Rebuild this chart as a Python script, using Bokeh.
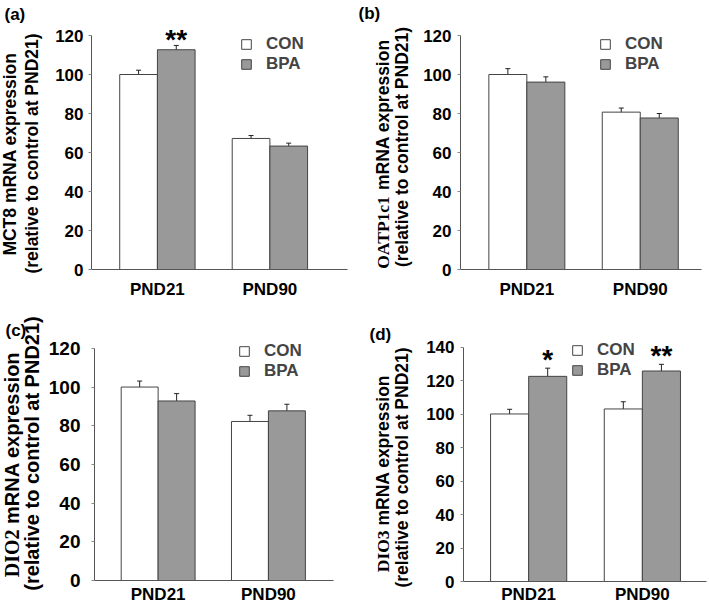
import math
from bokeh.plotting import figure
from bokeh.models import (ColumnDataSource, Range1d, FixedTicker, Label, Legend,
                          LegendItem, Whisker, TeeHead)
from bokeh.layouts import column, row
from bokeh.core.properties import value
from bokeh.embed import file_html
from bokeh.resources import INLINE

# ---------------- data ----------------
categories = ["PND21", "PND90"]
groups = ["CON", "BPA"]

mct8_con = [100.0, 67.2]
mct8_bpa = [112.7, 63.3]
mct8_con_err = [2.2, 1.5]
mct8_bpa_err = [2.2, 1.5]
mct8_sig = ["**", ""]

oatp_con = [100.0, 80.7]
oatp_bpa = [96.1, 77.7]
oatp_con_err = [3.0, 2.1]
oatp_bpa_err = [2.7, 2.3]
oatp_sig = ["", ""]

dio2_con = [100.0, 82.2]
dio2_bpa = [92.8, 87.7]
dio2_con_err = [3.1, 3.2]
dio2_bpa_err = [3.8, 3.4]
dio2_sig = ["", ""]

dio3_con = [100.2, 103.2]
dio3_bpa = [122.7, 125.9]
dio3_con_err = [2.8, 4.3]
dio3_bpa_err = [4.9, 4.0]
dio3_sig = ["*", "**"]

yticks_120 = [0, 20, 40, 60, 80, 100, 120]
yticks_140 = [0, 20, 40, 60, 80, 100, 120, 140]

label_line2 = "(relative to control at PND21)"
label_tail = "mRNA expression"

# ---------------- style ----------------
SANS = "Liberation Sans"
SERIF = "Liberation Serif"
BAR_W = 0.335
CON_FILL = "white"
BPA_FILL = "#999999"
EDGE = "#444444"

SANS_W = {' ': 278, '(': 333, ')': 333, 'A': 722, 'B': 722, 'C': 722, 'D': 722,
          'E': 667, 'I': 278, 'M': 833, 'N': 722, 'O': 778, 'P': 667, 'R': 722,
          'T': 611, 'a': 556, 'c': 556, 'e': 556, 'i': 278, 'l': 278, 'm': 889,
          'n': 611, 'o': 611, 'p': 611, 'r': 389, 's': 556, 't': 333, 'v': 556,
          'x': 556}
for d in "0123456789":
    SANS_W[d] = 556
SERIF_W = {' ': 250, 'A': 722, 'D': 722, 'I': 389, 'O': 778, 'P': 611, 'T': 667,
           'c': 444}
for d in "0123456789":
    SERIF_W[d] = 500


def tw(s, table, fs):
    return sum(table.get(c, 556) for c in s) / 1000.0 * fs


def make_title(tag, gene, gene_serif, cfg):
    """Narrow strip holding the panel tag and the two-line y-axis title."""
    W, H = cfg["tw"], cfg["h"]
    t = figure(width=W, height=H, output_backend="svg", toolbar_location=None,
               x_range=Range1d(0, W), y_range=Range1d(0, H),
               x_axis_location=None, y_axis_location=None,
               min_border_left=0, min_border_right=0, min_border_top=0,
               min_border_bottom=0)
    t.outline_line_color = None
    t.grid.visible = False

    t.add_layout(Label(x=cfg["tag"][0], y=cfg["tag"][1], text=tag,
                       text_align="left", text_baseline="middle", text_font=SANS,
                       text_font_style="bold", text_font_size="17px",
                       text_color="black"))

    fs1, fs2 = cfg["lfs1"], cfg["lfs2"]
    base = dict(angle=math.pi / 2, text_baseline="middle", text_font_style="bold",
                text_color="black")
    if gene_serif:
        w_gene = tw(gene, SERIF_W, fs1)
        w_sp = tw(" ", SANS_W, fs1)
        w_tail = tw(label_tail, SANS_W, fs1)
        start = cfg["c1"] - (w_gene + w_sp + w_tail) / 2
        t.add_layout(Label(x=cfg["l1x"], y=start, text=gene, text_font=SERIF,
                           text_align="left", text_font_size="%gpx" % fs1, **base))
        t.add_layout(Label(x=cfg["l1x"], y=start + w_gene + w_sp, text=label_tail,
                           text_font=SANS, text_align="left",
                           text_font_size="%gpx" % fs1, **base))
    else:
        t.add_layout(Label(x=cfg["l1x"], y=cfg["c1"], text=gene + " " + label_tail,
                           text_font=SANS, text_align="center",
                           text_font_size="%gpx" % fs1, **base))
    t.add_layout(Label(x=cfg["l2x"], y=cfg["c2"], text=label_line2, text_font=SANS,
                       text_align="center", text_font_size="%gpx" % fs2, **base))
    return t


def make_panel(con, bpa, con_err, bpa_err, sig, yticks, cfg):
    ymax = yticks[-1]
    h, bt, bb, ax_top = cfg["h"], cfg["bt"], cfg["bb"], cfg["ax_top"]
    ytop = ymax * (h - bb - bt) / (h - bb - ax_top)   # headroom above the axis
    p = figure(width=cfg["w"], height=h, output_backend="svg",
               toolbar_location=None,
               x_range=Range1d(cfg["x0"], cfg["x1"]),
               y_range=Range1d(yticks[0], ytop),
               min_border_left=cfg["bl"], min_border_right=cfg["br"],
               min_border_top=bt, min_border_bottom=bb)
    p.outline_line_color = None
    p.grid.visible = False

    xs = [i + 1 for i in range(len(categories))]
    src = ColumnDataSource(dict(
        x=xs,
        x_con=[x - BAR_W / 2 for x in xs],
        x_bpa=[x + BAR_W / 2 for x in xs],
        con=con, bpa=bpa,
        con_lo=[v - e for v, e in zip(con, con_err)],
        con_hi=[v + e for v, e in zip(con, con_err)],
        bpa_lo=[v - e for v, e in zip(bpa, bpa_err)],
        bpa_hi=[v + e for v, e in zip(bpa, bpa_err)],
        sig=sig,
    ))

    r_con = p.vbar(x="x_con", width=BAR_W, bottom=0, top="con", source=src,
                   fill_color=CON_FILL, line_color=EDGE, line_width=1)
    r_bpa = p.vbar(x="x_bpa", width=BAR_W, bottom=0, top="bpa", source=src,
                   fill_color=BPA_FILL, line_color=EDGE, line_width=1)

    for base, lo, hi in (("x_con", "con_lo", "con_hi"), ("x_bpa", "bpa_lo", "bpa_hi")):
        w = Whisker(source=src, base=base, lower=lo, upper=hi, dimension="height",
                    line_color="#222222", line_width=1,
                    upper_head=TeeHead(size=5, line_color="#222222", line_width=1),
                    lower_head=TeeHead(size=5, line_color="#222222", line_width=1))
        p.add_layout(w)

    p.text(x="x_bpa", y="bpa_hi", text="sig", source=src, text_align="center",
           text_baseline="middle", y_offset=cfg["sig_off"],
           text_font=value(SANS), text_font_style="bold", text_font_size="28px",
           text_color="black")

    xa = p.xaxis[0]
    xa.ticker = FixedTicker(ticks=xs)
    xa.major_label_overrides = {x: c for x, c in zip(xs, categories)}
    xa.major_tick_line_color = None
    xa.major_tick_out = 0
    xa.major_tick_in = 0
    xa.minor_tick_line_color = None
    xa.axis_line_color = "#555555"
    xa.major_label_standoff = cfg["xstand"]
    xa.major_label_text_font = SANS
    xa.major_label_text_font_style = "bold"
    xa.major_label_text_font_size = "17px"
    xa.major_label_text_color = "black"

    ya = p.yaxis[0]
    ya.ticker = FixedTicker(ticks=yticks)
    ya.bounds = (yticks[0], ymax)
    ya.major_tick_out = 3
    ya.major_tick_in = 0
    ya.major_tick_line_color = "#888888"
    ya.minor_tick_line_color = None
    ya.axis_line_color = "#555555"
    ya.major_label_standoff = cfg["ystand"]
    ya.major_label_text_font = SANS
    ya.major_label_text_font_style = "bold"
    ya.major_label_text_font_size = cfg["tickfs"]
    ya.major_label_text_color = "black"

    leg = Legend(items=[LegendItem(label=groups[0], renderers=[r_con]),
                        LegendItem(label=groups[1], renderers=[r_bpa])],
                 location=cfg["leg"], glyph_width=12, glyph_height=12,
                 label_standoff=14, spacing=cfg["lsp"], padding=0, margin=0,
                 border_line_color=None, background_fill_alpha=0,
                 label_text_font=SANS, label_text_font_style="bold",
                 label_text_font_size="17px", label_height=18)
    p.add_layout(leg)
    return p


# title strips (pixel-unit ranges) and plot panels
tcfg_a = dict(tw=45, h=303, tag=(4, 289), lfs1=17.5, lfs2=17.5, l1x=9.5, l2x=31.0,
              c1=149.5, c2=150)
tcfg_b = dict(tw=62, h=303, tag=(4, 290), lfs1=17.5, lfs2=17.5, l1x=28.9, l2x=47.2,
              c1=149.5, c2=156.5)
tcfg_c = dict(tw=45, h=303, tag=(5, 276), lfs1=20, lfs2=20, l1x=11.5, l2x=31.5,
              c1=142, c2=153)
tcfg_d = dict(tw=62, h=303, tag=(15, 272), lfs1=17.5, lfs2=17.5, l1x=28.8, l2x=47.2,
              c1=133, c2=139)

cfg_a = dict(w=309, h=303, bl=46, br=7, bt=20, ax_top=35, bb=34, x0=0.414, x1=2.69,
             xstand=10, ystand=5, tickfs="17px", leg=(149, 195), lsp=-5, sig_off=-6)
cfg_b = dict(w=293, h=303, bl=44, br=8, bt=20, ax_top=35, bb=34, x0=0.415, x1=2.54,
             xstand=10, ystand=6, tickfs="17px", leg=(139, 195), lsp=-3, sig_off=-8)
cfg_c = dict(w=309, h=303, bl=44, br=21, bt=27, ax_top=45, bb=24, x0=0.423, x1=2.59,
             xstand=4, ystand=11, tickfs="19px", leg=(144, 199), lsp=-3, sig_off=-8)
cfg_d = dict(w=293, h=303, bl=47, br=3, bt=27, ax_top=44, bb=24, x0=0.427, x1=2.564,
             xstand=3, ystand=6, tickfs="17px", leg=(108, 201), lsp=-3, sig_off=-9)

ta = make_title("(a)", "MCT8", False, tcfg_a)
tb = make_title("(b)", "OATP1c1", True, tcfg_b)
tc = make_title("(c)", "DIO2", True, tcfg_c)
td = make_title("(d)", "DIO3", True, tcfg_d)

pa = make_panel(mct8_con, mct8_bpa, mct8_con_err, mct8_bpa_err, mct8_sig, yticks_120, cfg_a)
pb = make_panel(oatp_con, oatp_bpa, oatp_con_err, oatp_bpa_err, oatp_sig, yticks_120, cfg_b)
pc = make_panel(dio2_con, dio2_bpa, dio2_con_err, dio2_bpa_err, dio2_sig, yticks_120, cfg_c)
pd = make_panel(dio3_con, dio3_bpa, dio3_con_err, dio3_bpa_err, dio3_sig, yticks_140, cfg_d)

# each figure wrapped on its own so that neighbouring frames are not aligned
top = row(column(ta), column(pa), column(tb), column(pb))
bottom = row(column(tc), column(pc), column(td), column(pd))
layout = column(top, bottom)
open("out.html", "w").write(file_html(layout, INLINE))
